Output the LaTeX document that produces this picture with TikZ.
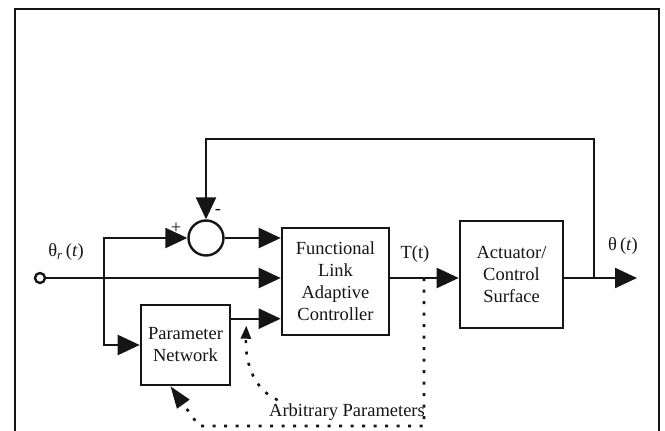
\documentclass[tikz,border=0pt]{standalone}
\usepackage{fontspec}
\setmainfont{Liberation Serif}
\usetikzlibrary{arrows.meta,calc,positioning}
\definecolor{ScanInk}{HTML}{151515}
\tikzset{
  every node/.style={font=\fontsize{18.5}{22}\selectfont, text=ScanInk},
  block/.style={draw=ScanInk, line width=2.6pt, align=center, inner sep=0pt},
  junction/.style={draw=ScanInk, line width=2.4pt, circle, inner sep=0pt},
  signal/.style={-{Triangle[length=22pt,width=20pt]}, draw=ScanInk, line width=2.4pt},
  param/.style={draw=ScanInk, line width=2.6pt, dash pattern=on 3pt off 8.5pt},
  frame/.style={draw=ScanInk, line width=1.8pt},
}

\begin{document}
\begin{tikzpicture}[x=1pt,y=-1pt]
  \useasboundingbox (0,0) rectangle (665,431);
  % page frame, open at the bottom
  \draw[frame] (15,431) -- (15,9) -- (659,9) -- (659,431);
  % blocks
  \node[block, minimum width=107pt, minimum height=107pt] (flac) at (335.5,281.5)
    {Functional\\Link\\Adaptive\\Controller};
  \node[block, minimum width=103pt, minimum height=107pt] (act) at (511.5,274.5)
    {Actuator/\\Control\\Surface};
  \node[block, minimum width=89pt, minimum height=80pt] (pn) at (185.5,345)
    {Parameter\\Network};
  \node[junction, minimum size=35pt] (sum) at (206,238) {};
  \node[junction, minimum size=10pt, fill=white] (ref) at (40,278) {};
  % branch points
  \coordinate (split) at (104,278);
  \coordinate (tt) at (424,278);
  \coordinate (tap) at (594,278);
  \coordinate (fbtop) at (594,139);
  \coordinate (out) at (637,278);
  \coordinate (pnout) at ([yshift=-15pt]pn.north east);
  % signal paths
  \draw[signal] (ref) -- (flac.west |- ref);
  \draw[signal] (split) |- (sum.west);
  \draw[signal] (split) |- (pn.west);
  \draw[signal] (sum.east) -- (sum.east -| flac.west);
  \draw[signal] (pnout) -- (pnout -| flac.west);
  \draw[signal] (flac.east |- ref) -- (act.west |- ref);
  \draw[signal] (act.east |- ref) -- (out);
  \draw[signal] (tap) -- (fbtop) -| (sum.north);
  % labels
  \node (refl) at (66,252) {θ\textsubscript{\textit{r}}\,(\textit{t})};
  \node (ttl) at (415,254) {T(t)};
  \node (outl) at (623,246) {θ\,(\textit{t})};
  \node (plus) at (176,228) {+};
  \node (minus) at (218,212) {-};
  \node (arb) at (347,412) {Arbitrary Parameters};
  % parameter feedback, dotted
  \coordinate (dcorner) at (424,426);
  \coordinate (dstart) at (199,426);
  \coordinate (ptip) at ([xshift=15pt,yshift=-7pt]pnout);
  \draw[param, -{Triangle[length=22pt,width=15pt]}]
    (tt) -- (dcorner) -- (dstart) -- ([xshift=-15pt]pn.south);
  \draw[param, -{Triangle[length=13pt,width=10pt]}]
    ([xshift=12pt]arb.north west) .. controls (255,390) and (245,365) .. (ptip);
\end{tikzpicture}
\end{document}
